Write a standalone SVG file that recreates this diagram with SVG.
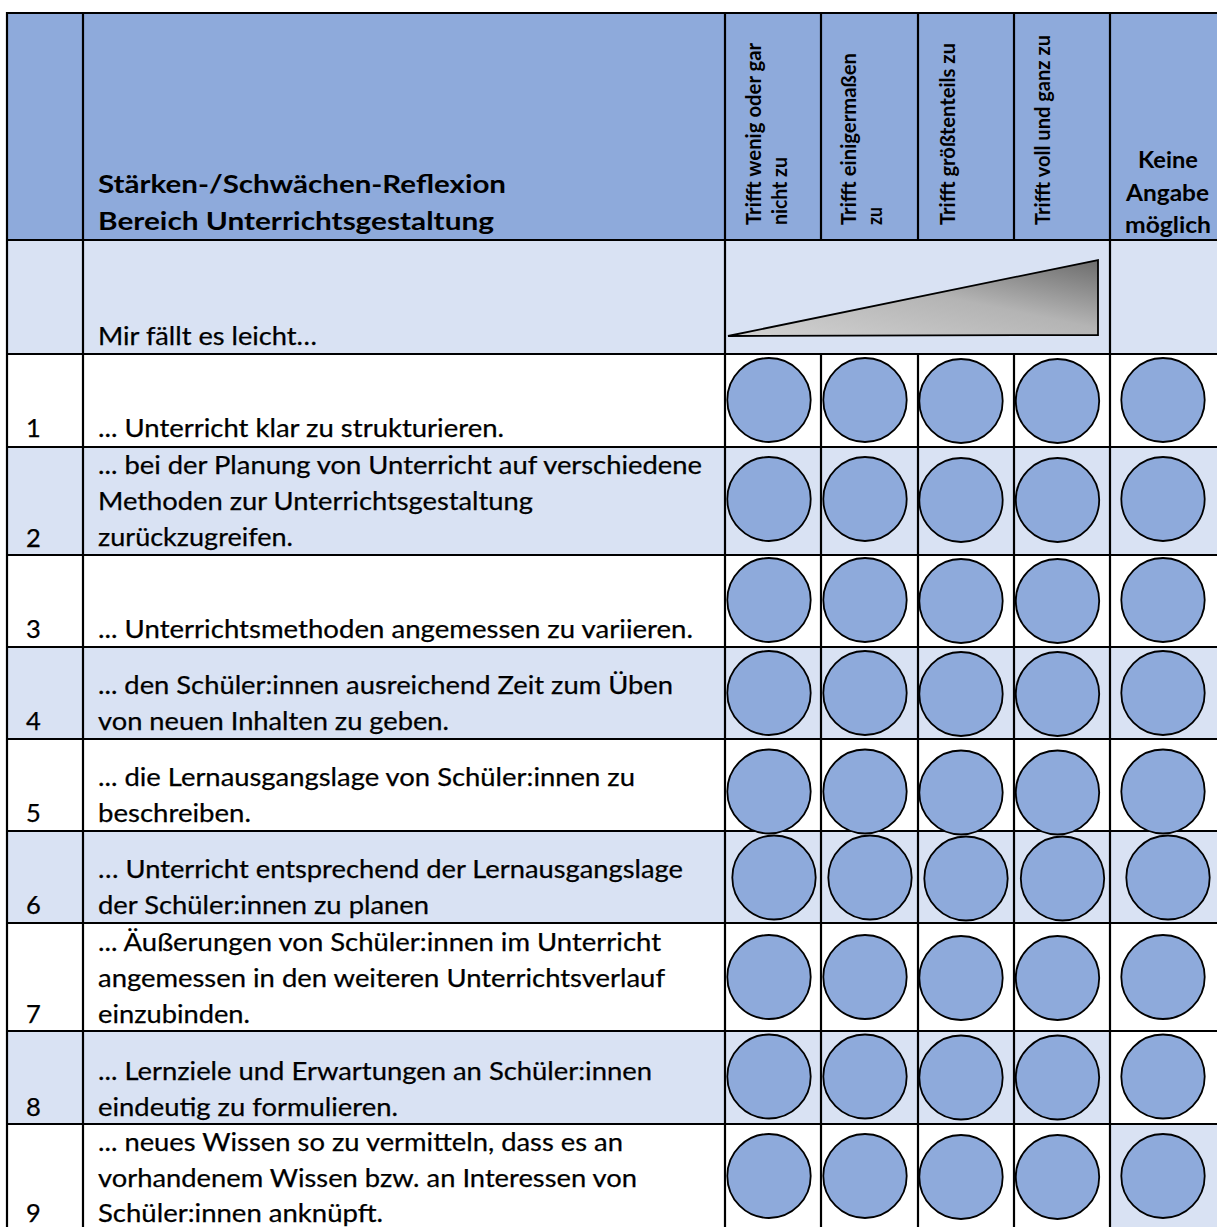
<svg xmlns="http://www.w3.org/2000/svg" width="1217" height="1227" viewBox="0 0 1217 1227">
<style>
.t{font-family:Lato,"Liberation Sans",sans-serif;font-size:25.5px;fill:#000;stroke:#000;stroke-width:0.25}
.b{font-family:Lato,"Liberation Sans",sans-serif;font-weight:bold;fill:#000}
.h{font-size:25px}
.v{font-size:20px}
.k{font-size:22.5px}
.dark{fill:#8EAADB}
.light{fill:#D9E2F3}
.white{fill:#FFFFFF}
.grid line{stroke:#000;stroke-width:2.2}
.c{fill:#8EAADB;stroke:#000;stroke-width:1.8}
</style>
<defs>
<linearGradient id="tri" x1="0" y1="1" x2="1" y2="0">
<stop offset="0" stop-color="#d2d2d2"/>
<stop offset="0.55" stop-color="#b4b4b4"/>
<stop offset="1" stop-color="#6c6c6c"/>
</linearGradient>
</defs>
<rect x="0" y="0" width="1217" height="1227" fill="#fff"/>
<g id="backgrounds">
<rect class="dark" x="7" y="13" width="1210" height="227"/>
<rect class="light" x="7" y="240" width="1210" height="114"/>
<rect class="white" x="7" y="354" width="1210" height="93"/>
<rect class="light" x="7" y="447" width="1210" height="108"/>
<rect class="white" x="7" y="555" width="1210" height="92"/>
<rect class="light" x="7" y="647" width="1210" height="92"/>
<rect class="white" x="7" y="739" width="1210" height="92"/>
<rect class="light" x="7" y="831" width="1210" height="92"/>
<rect class="white" x="7" y="923" width="1210" height="108"/>
<rect class="light" x="7" y="1031" width="1103" height="93"/>
<rect class="white" x="1110" y="1031" width="107" height="93"/>
<rect class="white" x="7" y="1124" width="1103" height="103"/>
<rect class="light" x="1110" y="1124" width="107" height="103"/>
</g>
<g id="triangle">
<polygon points="728,336 1098,260 1098,335" fill="url(#tri)" stroke="#000" stroke-width="1.8" stroke-linejoin="miter"/>
</g>
<g id="connectors" class="grid">
<line x1="6" y1="13" x2="1217" y2="13"/>
<line x1="6" y1="240" x2="1217" y2="240"/>
<line x1="6" y1="354" x2="1217" y2="354"/>
<line x1="6" y1="447" x2="1217" y2="447"/>
<line x1="6" y1="555" x2="1217" y2="555"/>
<line x1="6" y1="647" x2="1217" y2="647"/>
<line x1="6" y1="739" x2="1217" y2="739"/>
<line x1="6" y1="831" x2="1217" y2="831"/>
<line x1="6" y1="923" x2="1217" y2="923"/>
<line x1="6" y1="1031" x2="1217" y2="1031"/>
<line x1="6" y1="1124" x2="1217" y2="1124"/>
<line x1="7" y1="12" x2="7" y2="1227"/>
<line x1="83" y1="12" x2="83" y2="1227"/>
<line x1="725" y1="12" x2="725" y2="1227"/>
<line x1="1110" y1="12" x2="1110" y2="1227"/>
<line x1="821" y1="12" x2="821" y2="240"/>
<line x1="918" y1="12" x2="918" y2="240"/>
<line x1="1014" y1="12" x2="1014" y2="240"/>
<line x1="821" y1="354" x2="821" y2="1227"/>
<line x1="918" y1="354" x2="918" y2="1227"/>
<line x1="1014" y1="354" x2="1014" y2="1227"/>
</g>
<g id="header">
<text class="b h" x="98" y="193" textLength="408" lengthAdjust="spacingAndGlyphs">Stärken-/Schwächen-Reflexion</text>
<text class="b h" x="98" y="230" textLength="396" lengthAdjust="spacingAndGlyphs">Bereich Unterrichtsgestaltung</text>
<g transform="translate(761,225) rotate(-90)"><text class="b v" x="0" y="0" textLength="182" lengthAdjust="spacingAndGlyphs">Trifft wenig oder gar</text></g>
<g transform="translate(787,225) rotate(-90)"><text class="b v" x="0" y="0" textLength="68" lengthAdjust="spacingAndGlyphs">nicht zu</text></g>
<g transform="translate(856,225) rotate(-90)"><text class="b v" x="0" y="0" textLength="172" lengthAdjust="spacingAndGlyphs">Trifft einigermaßen</text></g>
<g transform="translate(882,225) rotate(-90)"><text class="b v" x="0" y="0" textLength="18" lengthAdjust="spacingAndGlyphs">zu</text></g>
<g transform="translate(955,225) rotate(-90)"><text class="b v" x="0" y="0" textLength="182" lengthAdjust="spacingAndGlyphs">Trifft größtenteils zu</text></g>
<g transform="translate(1050,225) rotate(-90)"><text class="b v" x="0" y="0" textLength="190" lengthAdjust="spacingAndGlyphs">Trifft voll und ganz zu</text></g>
<text class="b k" x="1138" y="168" textLength="60" lengthAdjust="spacingAndGlyphs">Keine</text>
<text class="b k" x="1126" y="201" textLength="83" lengthAdjust="spacingAndGlyphs">Angabe</text>
<text class="b k" x="1125" y="233" textLength="86" lengthAdjust="spacingAndGlyphs">möglich</text>
</g>
<g id="row-intro">
<text class="t" x="98" y="345" textLength="219" lengthAdjust="spacingAndGlyphs">Mir fällt es leicht…</text>
</g>
<g id="row-1">
<text class="t" x="26" y="437">1</text>
<text class="t" x="98" y="437" textLength="406" lengthAdjust="spacingAndGlyphs">... Unterricht klar zu strukturieren.</text>
</g>
<g id="row-2">
<text class="t" x="26" y="547">2</text>
<text class="t" x="98" y="474" textLength="604" lengthAdjust="spacingAndGlyphs">... bei der Planung von Unterricht auf verschiedene</text>
<text class="t" x="98" y="510" textLength="435" lengthAdjust="spacingAndGlyphs">Methoden zur Unterrichtsgestaltung</text>
<text class="t" x="98" y="546" textLength="195" lengthAdjust="spacingAndGlyphs">zurückzugreifen.</text>
</g>
<g id="row-3">
<text class="t" x="26" y="638">3</text>
<text class="t" x="98" y="638" textLength="595" lengthAdjust="spacingAndGlyphs">... Unterrichtsmethoden angemessen zu variieren.</text>
</g>
<g id="row-4">
<text class="t" x="26" y="730">4</text>
<text class="t" x="98" y="694" textLength="575" lengthAdjust="spacingAndGlyphs">... den Schüler:innen ausreichend Zeit zum Üben</text>
<text class="t" x="98" y="730" textLength="351" lengthAdjust="spacingAndGlyphs">von neuen Inhalten zu geben.</text>
</g>
<g id="row-5">
<text class="t" x="26" y="822">5</text>
<text class="t" x="98" y="786" textLength="537" lengthAdjust="spacingAndGlyphs">... die Lernausgangslage von Schüler:innen zu</text>
<text class="t" x="98" y="822" textLength="153" lengthAdjust="spacingAndGlyphs">beschreiben.</text>
</g>
<g id="row-6">
<text class="t" x="26" y="914">6</text>
<text class="t" x="98" y="878" textLength="585" lengthAdjust="spacingAndGlyphs">… Unterricht entsprechend der Lernausgangslage</text>
<text class="t" x="98" y="914" textLength="331" lengthAdjust="spacingAndGlyphs">der Schüler:innen zu planen</text>
</g>
<g id="row-7">
<text class="t" x="26" y="1023">7</text>
<text class="t" x="98" y="951" textLength="563" lengthAdjust="spacingAndGlyphs">... Äußerungen von Schüler:innen im Unterricht</text>
<text class="t" x="98" y="987" textLength="567" lengthAdjust="spacingAndGlyphs">angemessen in den weiteren Unterrichtsverlauf</text>
<text class="t" x="98" y="1023" textLength="152" lengthAdjust="spacingAndGlyphs">einzubinden.</text>
</g>
<g id="row-8">
<text class="t" x="26" y="1116">8</text>
<text class="t" x="98" y="1080" textLength="554" lengthAdjust="spacingAndGlyphs">... Lernziele und Erwartungen an Schüler:innen</text>
<text class="t" x="98" y="1116" textLength="300" lengthAdjust="spacingAndGlyphs">eindeutig zu formulieren.</text>
</g>
<g id="row-9">
<text class="t" x="26" y="1222">9</text>
<text class="t" x="98" y="1151" textLength="525" lengthAdjust="spacingAndGlyphs">... neues Wissen so zu vermitteln, dass es an</text>
<text class="t" x="98" y="1187" textLength="539" lengthAdjust="spacingAndGlyphs">vorhandenem Wissen bzw. an Interessen von</text>
<text class="t" x="98" y="1222" textLength="285" lengthAdjust="spacingAndGlyphs">Schüler:innen anknüpft.</text>
</g>
<g id="circles">
<g id="circles-1"><ellipse class="c" cx="769" cy="400" rx="41.7" ry="42"/><ellipse class="c" cx="865" cy="400" rx="41.7" ry="42"/><ellipse class="c" cx="961" cy="401" rx="41.7" ry="42"/><ellipse class="c" cx="1057.5" cy="401" rx="41.7" ry="42"/><ellipse class="c" cx="1163" cy="400" rx="41.7" ry="42"/></g>
<g id="circles-2"><ellipse class="c" cx="769" cy="499" rx="41.7" ry="42"/><ellipse class="c" cx="865" cy="499" rx="41.7" ry="42"/><ellipse class="c" cx="961" cy="500" rx="41.7" ry="42"/><ellipse class="c" cx="1057.5" cy="500" rx="41.7" ry="42"/><ellipse class="c" cx="1163" cy="499" rx="41.7" ry="42"/></g>
<g id="circles-3"><ellipse class="c" cx="769" cy="600" rx="41.7" ry="42"/><ellipse class="c" cx="865" cy="600" rx="41.7" ry="42"/><ellipse class="c" cx="961" cy="601" rx="41.7" ry="42"/><ellipse class="c" cx="1057.5" cy="601" rx="41.7" ry="42"/><ellipse class="c" cx="1163" cy="600" rx="41.7" ry="42"/></g>
<g id="circles-4"><ellipse class="c" cx="769" cy="693" rx="41.7" ry="42"/><ellipse class="c" cx="865" cy="693" rx="41.7" ry="42"/><ellipse class="c" cx="961" cy="694" rx="41.7" ry="42"/><ellipse class="c" cx="1057.5" cy="694" rx="41.7" ry="42"/><ellipse class="c" cx="1163" cy="693" rx="41.7" ry="42"/></g>
<g id="circles-5"><ellipse class="c" cx="769" cy="791.5" rx="41.7" ry="42"/><ellipse class="c" cx="865" cy="791.5" rx="41.7" ry="42"/><ellipse class="c" cx="961" cy="792.5" rx="41.7" ry="42"/><ellipse class="c" cx="1057.5" cy="792.5" rx="41.7" ry="42"/><ellipse class="c" cx="1163" cy="791.5" rx="41.7" ry="42"/></g>
<g id="circles-6"><ellipse class="c" cx="774" cy="877.5" rx="41.7" ry="42"/><ellipse class="c" cx="870" cy="877.5" rx="41.7" ry="42"/><ellipse class="c" cx="966" cy="878.5" rx="41.7" ry="42"/><ellipse class="c" cx="1062.5" cy="878.5" rx="41.7" ry="42"/><ellipse class="c" cx="1168" cy="877.5" rx="41.7" ry="42"/></g>
<g id="circles-7"><ellipse class="c" cx="769" cy="977" rx="41.7" ry="42"/><ellipse class="c" cx="865" cy="977" rx="41.7" ry="42"/><ellipse class="c" cx="961" cy="978" rx="41.7" ry="42"/><ellipse class="c" cx="1057.5" cy="978" rx="41.7" ry="42"/><ellipse class="c" cx="1163" cy="977" rx="41.7" ry="42"/></g>
<g id="circles-8"><ellipse class="c" cx="769" cy="1076.5" rx="41.7" ry="42"/><ellipse class="c" cx="865" cy="1076.5" rx="41.7" ry="42"/><ellipse class="c" cx="961" cy="1077.5" rx="41.7" ry="42"/><ellipse class="c" cx="1057.5" cy="1077.5" rx="41.7" ry="42"/><ellipse class="c" cx="1163" cy="1076.5" rx="41.7" ry="42"/></g>
<g id="circles-9"><ellipse class="c" cx="769" cy="1176" rx="41.7" ry="42"/><ellipse class="c" cx="865" cy="1176" rx="41.7" ry="42"/><ellipse class="c" cx="961" cy="1177" rx="41.7" ry="42"/><ellipse class="c" cx="1057.5" cy="1177" rx="41.7" ry="42"/><ellipse class="c" cx="1163" cy="1176" rx="41.7" ry="42"/></g>
</g>
</svg>
